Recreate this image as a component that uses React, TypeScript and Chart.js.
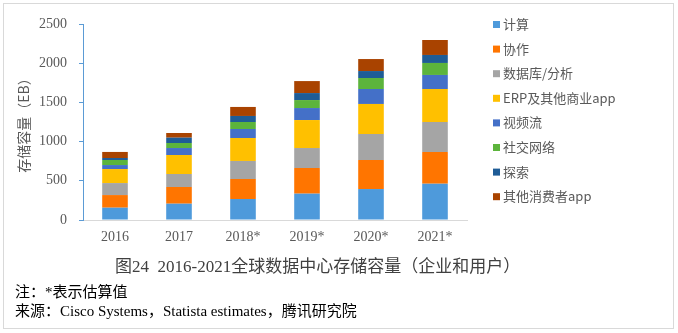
import React, { useEffect, useRef } from "react";
import { Chart, registerables } from "chart.js";

Chart.register(...registerables);

const categories = ["2016", "2017", "2018*", "2019*", "2020*", "2021*"];
const seriesNames = ["计算", "协作", "数据库/分析", "ERP及其他商业app", "视频流", "社交网络", "探索", "其他消费者app"];
const computeVals = [157, 208, 268, 336, 395, 463];
const collabVals = [161, 213, 255, 327, 370, 404];
const databaseVals = [153, 166, 230, 255, 332, 383];
const erpVals = [179, 242, 293, 357, 383, 421];
const videoVals = [51, 89, 115, 153, 191, 179];
const socialVals = [64, 64, 89, 102, 140, 153];
const searchVals = [26, 68, 77, 89, 89, 102];
const otherVals = [77, 60, 115, 153, 153, 191];
const seriesColors = ["#4E9ADB", "#FF7500", "#A5A5A5", "#FFC000", "#4470C8", "#5CB43C", "#1E5C96", "#A94300"];
const yTicks = [0, 500, 1000, 1500, 2000, 2500];
const yTitle = "存储容量（EB）";
const caption = "图24  2016-2021全球数据中心存储容量（企业和用户）";
const note1 = "注：*表示估算值";
const note2 = "来源：Cisco Systems，Statista estimates，腾讯研究院";

const SERIF = "'Liberation Serif', 'Times New Roman', 'Noto Sans CJK SC', serif";
const SANS = "'Noto Sans CJK SC', 'Noto Sans', sans-serif";

export default function App() {
  const ref = useRef<HTMLCanvasElement | null>(null);

  useEffect(() => {
    const canvas = ref.current;
    if (!canvas) return;
    const values = [computeVals, collabVals, databaseVals, erpVals, videoVals, socialVals, searchVals, otherVals];

    const extras = {
      id: "extras",
      afterDraw(chart: any) {
        const ctx = chart.ctx;
        ctx.save();
        ctx.strokeStyle = "#D9D9D9";
        ctx.lineWidth = 1;
        ctx.strokeRect(3.5, 3.5, 670, 325);
        ctx.textBaseline = "middle";
        ctx.textAlign = "left";
        ctx.font = `13px ${SANS}`;
        chart.data.datasets.forEach((ds: any, i: number) => {
          const y = 24 + i * 24.6;
          ctx.fillStyle = ds.backgroundColor;
          ctx.fillRect(493, y - 3, 7, 7);
          ctx.fillStyle = "#595959";
          ctx.fillText(ds.label, 503, y);
        });
        ctx.fillStyle = "#404040";
        ctx.font = `17px ${SERIF}`;
        ctx.fillText(caption, 115, 268);
        ctx.fillStyle = "#000000";
        ctx.font = `15px ${SERIF}`;
        ctx.fillText(note1, 15, 293);
        ctx.fillText(note2, 15, 312);
        ctx.restore();
      },
    };

    const chart = new Chart(canvas, {
      type: "bar",
      data: {
        labels: categories,
        datasets: seriesNames.map((name, i) => ({
          label: name,
          data: values[i],
          backgroundColor: seriesColors[i],
          borderWidth: 0,
          barPercentage: 0.4,
          categoryPercentage: 1,
        })),
      },
      options: {
        animation: false,
        responsive: false,
        maintainAspectRatio: false,
        layout: { padding: { left: 0, right: 211, top: 24, bottom: 83 } },
        plugins: { legend: { display: false }, tooltip: { enabled: false } },
        scales: {
          x: {
            stacked: true,
            grid: { display: true, drawOnChartArea: false, drawTicks: false },
            border: { color: "#D9D9D9", width: 1 },
            ticks: { color: "#595959", font: { family: SERIF, size: 14 }, padding: 9 },
            afterFit(scale: any) {
              scale.height = 30;
            },
          },
          y: {
            stacked: true,
            min: 0,
            max: 2500,
            afterBuildTicks(scale: any) {
              scale.ticks = yTicks.map((v) => ({ value: v }));
            },
            grid: { display: true, drawOnChartArea: false, drawTicks: true, tickLength: 4, color: "#5B9BD5" },
            border: { color: "#5B9BD5", width: 1 },
            ticks: {
              color: "#595959",
              font: { family: SERIF, size: 14 },
              padding: 12,
              callback: (v: any) => String(v),
            },
            title: {
              display: true,
              text: yTitle,
              color: "#595959",
              font: { family: SANS, size: 14 },
              padding: { top: 15, bottom: 0 },
            },
            afterFit(scale: any) {
              scale.width = 83;
            },
          },
        },
      },
      plugins: [extras],
    });
    return () => chart.destroy();
  }, []);

  return (
    <div style={{ position: "absolute", left: 0, top: 0, width: 678, height: 333, background: "#fff" }}>
      <canvas ref={ref} width={678} height={333} style={{ width: 678, height: 333 }} />
    </div>
  );
}
